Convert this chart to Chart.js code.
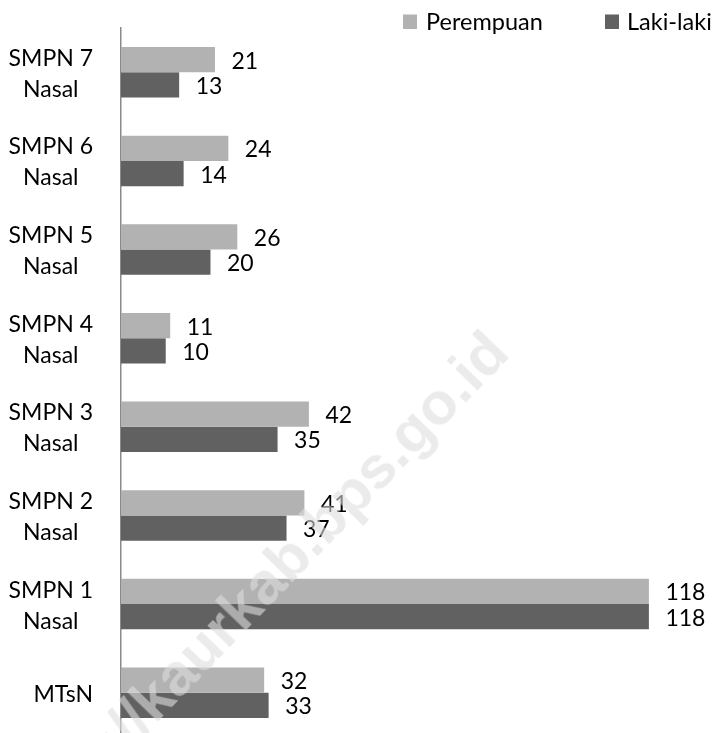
<!DOCTYPE html>
<html>
<head>
<meta charset="utf-8">
<script src="https://cdn.jsdelivr.net/npm/chart.js@4/dist/chart.umd.min.js"></script>
<style>
  html, body { margin: 0; padding: 0; background: #fff; width: 716px; height: 733px; overflow: hidden; }
  #wrap { position: relative; width: 716px; height: 737px; }
  #c { position: absolute; left: 0; top: 0; }
  #wm {
    position: absolute; left: 0; top: 0; white-space: nowrap; line-height: 70px;
    font-family: "Liberation Sans", Arial, sans-serif; font-weight: bold; font-size: 60px;
    color: rgba(222,222,222,0.6); pointer-events: none;
    transform-origin: 0 0;
  }
</style>
</head>
<body>
<div id="wrap">
  <canvas id="c" width="716" height="737"></canvas>
  <div id="wm">http://kaurkab.bps.go.id</div>
</div>
<script>
// ---- data ----
const categories = [
  ['SMPN 7', 'Nasal'],
  ['SMPN 6', 'Nasal'],
  ['SMPN 5', 'Nasal'],
  ['SMPN 4', 'Nasal'],
  ['SMPN 3', 'Nasal'],
  ['SMPN 2', 'Nasal'],
  ['SMPN 1', 'Nasal'],
  ['MTsN']
];
const seriesNames = ['Perempuan', 'Laki-laki'];
const perempuan = [21, 24, 26, 11, 42, 41, 118, 32];
const lakiLaki  = [13, 14, 20, 10, 35, 37, 118, 33];

const colors = ['#b2b2b2', '#616161'];
const FONT = 'Lato, "Open Sans", sans-serif';
const FSIZE = 23;

const valueLabels = {
  id: 'valueLabels',
  afterDatasetsDraw(chart) {
    const ctx = chart.ctx;
    ctx.save();
    ctx.font = FSIZE + 'px ' + FONT;
    ctx.fillStyle = '#000';
    ctx.textAlign = 'left';
    ctx.textBaseline = 'alphabetic';
    chart.data.datasets.forEach((ds, d) => {
      const meta = chart.getDatasetMeta(d);
      meta.data.forEach((bar, i) => {
        ctx.fillText(String(ds.data[i]), bar.x + 16.5, bar.y + 9);
      });
    });
    ctx.restore();
  }
};

const categoryLabels = {
  id: 'categoryLabels',
  afterDraw(chart) {
    const ctx = chart.ctx;
    const y = chart.scales.y;
    ctx.save();
    ctx.font = FSIZE + 'px ' + FONT;
    ctx.fillStyle = '#000';
    ctx.textAlign = 'center';
    ctx.textBaseline = 'alphabetic';
    const lh = 31;
    chart.data.labels.forEach((lab, i) => {
      const lines = Array.isArray(lab) ? lab : [lab];
      const cy = y.getPixelForValue(i);
      const w = Math.max(...lines.map(l => ctx.measureText(l).width));
      const right = 93;
      lines.forEach((l, k) => {
        ctx.fillText(l, right - w / 2, cy + 9 + (k - (lines.length - 1) / 2) * lh);
      });
    });
    ctx.restore();
  }
};

const legendDraw = {
  id: 'legendDraw',
  afterDraw(chart) {
    const ctx = chart.ctx;
    ctx.save();
    ctx.font = (FSIZE + 0.5) + 'px ' + FONT;
    ctx.textBaseline = 'alphabetic';
    ctx.textAlign = 'left';
    const boxX = [403, 605];
    const textX = [426, 627];
    chart.data.datasets.forEach((ds, d) => {
      ctx.fillStyle = ds.backgroundColor;
      ctx.fillRect(boxX[d], 14.5, 14, 14.5);
      ctx.fillStyle = '#000';
      ctx.fillText(ds.label, textX[d], 30);
    });
    ctx.restore();
  }
};

new Chart(document.getElementById('c'), {
  type: 'bar',
  data: {
    labels: categories,
    datasets: [
      { label: seriesNames[0], data: perempuan, backgroundColor: colors[0], barPercentage: 1, categoryPercentage: 0.571 },
      { label: seriesNames[1], data: lakiLaki, backgroundColor: colors[1], barPercentage: 1, categoryPercentage: 0.571 }
    ]
  },
  options: {
    indexAxis: 'y',
    responsive: false,
    animation: false,
    devicePixelRatio: 1,
    layout: { padding: { top: 28, left: 0, right: 0, bottom: 0 } },
    plugins: { legend: { display: false }, tooltip: { enabled: false } },
    scales: {
      x: { display: false, min: 0, max: 133 },
      y: {
        grid: { display: false },
        border: { display: true, color: '#8a8a8a', width: 1.5 },
        ticks: { display: false },
        afterFit(s) { s.width = 121; }
      }
    }
  },
  plugins: [valueLabels, categoryLabels, legendDraw]
});

// watermark placement
(function () {
  const wm = document.getElementById('wm');
  const deg = -46;
  const ang = deg * Math.PI / 180;
  const w = wm.offsetWidth;
  const base = 56; // approx baseline offset inside the div
  const endX = 512, endY = 356;
  const sx = endX - w * Math.cos(ang);
  const sy = endY - w * Math.sin(ang);
  wm.style.left = sx + 'px';
  wm.style.top = (sy - base) + 'px';
  wm.style.transformOrigin = '0px ' + base + 'px';
  wm.style.transform = 'rotate(' + deg + 'deg)';
})();
</script>
</body>
</html>
